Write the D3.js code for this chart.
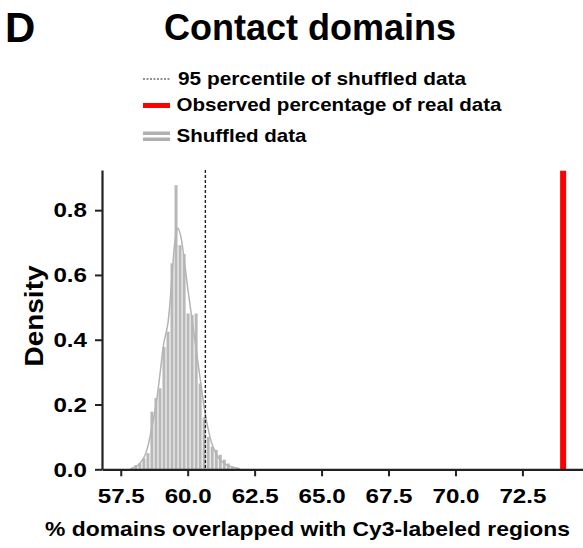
<!DOCTYPE html>
<html>
<head>
<meta charset="utf-8">
<script src="https://cdn.jsdelivr.net/npm/d3@7"></script>
<style>
  html, body { margin: 0; padding: 0; background: #fff; }
  svg { display: block; font-family: "Liberation Sans", Arial, sans-serif; }
</style>
</head>
<body>
<svg id="chart" width="583" height="548"></svg>
<script>
// Histogram of shuffled overlap percentages (density per bin)
const binStart = 57.84;
const binWidth = 0.15;
const shuffledDensity = [0.004, 0.013, 0.019, 0.034, 0.05, 0.178, 0.22, 0.25, 0.378, 0.425,
  0.636, 0.877, 0.692, 0.665, 0.481, 0.476, 0.481, 0.265, 0.16, 0.10,
  0.07, 0.06, 0.045, 0.03, 0.018, 0.008, 0.004];

// Smoothed density curve of the shuffled data
const curveX = [57.90, 58.06, 58.21, 58.36, 58.51, 58.66, 58.81, 58.96, 59.11, 59.26,
  59.41, 59.52, 59.63, 59.74, 59.85, 60.00, 60.15, 60.30, 60.45, 60.60,
  60.75, 60.90, 61.05, 61.20, 61.42, 61.65, 61.95];
const curveY = [0.003, 0.008, 0.018, 0.035, 0.07, 0.13, 0.195, 0.29, 0.39, 0.45,
  0.59, 0.70, 0.745, 0.72, 0.66, 0.56, 0.47, 0.38, 0.29, 0.20,
  0.13, 0.08, 0.05, 0.03, 0.015, 0.007, 0.002];

// Reference lines
const percentile95 = 60.66;
const observedPct = 74.02;

// Axis ticks
const xTicks = [57.5, 60.0, 62.5, 65.0, 67.5, 70.0, 72.5];
const yTicks = [0.0, 0.2, 0.4, 0.6, 0.8];

const legendLabels = ["95 percentile of shuffled data", "Observed percentage of real data", "Shuffled data"];

const svg = d3.select("#chart");
const FONT = "Liberation Sans, Arial, sans-serif";

// widen glyphs of a text selection by a factor
function widen(sel, factor) {
  sel.each(function () {
    const w = this.getComputedTextLength();
    d3.select(this).attr("textLength", w * factor).attr("lengthAdjust", "spacingAndGlyphs");
  });
}
function fitTo(sel, width) {
  sel.attr("textLength", width).attr("lengthAdjust", "spacingAndGlyphs");
}

const x = d3.scaleLinear().domain([56.8, 74.8]).range([102, 584]);
const y = d3.scaleLinear().domain([0, 0.924]).range([469.3, 170]);

const bins = shuffledDensity.map((d, i) => ({
  x0: binStart + i * binWidth,
  x1: binStart + (i + 1) * binWidth,
  v: d
}));

// Bars
svg.append("g").selectAll("rect").data(bins).join("rect")
  .attr("x", d => x(d.x0) + 0.5)
  .attr("width", d => x(d.x1) - x(d.x0) - 1)
  .attr("y", d => y(d.v))
  .attr("height", d => y(0) - y(d.v))
  .attr("fill", "#b8b8b8");

// Density curve
const curvePts = curveX.map((v, i) => [v, curveY[i]]);
svg.append("path")
  .datum(curvePts)
  .attr("fill", "none")
  .attr("stroke", "#b4b4b4")
  .attr("stroke-width", 1.5)
  .attr("d", d3.line().x(d => x(d[0])).y(d => y(d[1])).curve(d3.curveCatmullRom.alpha(0.5)));

// 95th percentile line
svg.append("line")
  .attr("x1", x(percentile95)).attr("x2", x(percentile95))
  .attr("y1", y(0.924)).attr("y2", y(0))
  .attr("stroke", "#222").attr("stroke-width", 1.4)
  .attr("stroke-dasharray", "3,2");

// Observed value line
svg.append("line")
  .attr("x1", x(observedPct)).attr("x2", x(observedPct))
  .attr("y1", y(0.922)).attr("y2", y(0))
  .attr("stroke", "#ff0000").attr("stroke-width", 6);

// Axes
const xAxis = svg.append("g")
  .attr("transform", `translate(0,${y(0)})`)
  .call(d3.axisBottom(x).tickValues(xTicks).tickFormat(d3.format(".1f")).tickSize(7).tickSizeOuter(0));
const yAxis = svg.append("g")
  .attr("transform", `translate(${x(56.8)},0)`)
  .call(d3.axisLeft(y).tickValues(yTicks).tickFormat(d3.format(".1f")).tickSize(7).tickSizeOuter(0));

[xAxis, yAxis].forEach(g => {
  g.select(".domain").attr("stroke", "#222").attr("stroke-width", 2.2);
  g.selectAll(".tick line").attr("stroke", "#222").attr("stroke-width", 2);
  g.selectAll(".tick text")
    .attr("fill", "#000")
    .style("font-family", FONT)
    .style("font-weight", "bold")
    .style("font-size", "21px");
});
xAxis.selectAll(".tick text").attr("dy", "0.71em").attr("y", 19);
yAxis.selectAll(".tick text").attr("x", -15);
widen(xAxis.selectAll(".tick text"), 1.15);
widen(yAxis.selectAll(".tick text"), 1.15);

// Axis titles
svg.append("text")
  .attr("x", 307.5).attr("y", 536)
  .attr("text-anchor", "middle")
  .style("font-family", FONT).style("font-weight", "bold").style("font-size", "21px")
  .text("% domains overlapped with Cy3-labeled regions")
  .call(fitTo, 525);

svg.append("text")
  .attr("transform", "translate(43,316) rotate(-90)")
  .attr("text-anchor", "middle")
  .style("font-family", FONT).style("font-weight", "bold").style("font-size", "26px")
  .text("Density")
  .call(fitTo, 101);

// Title and panel letter
svg.append("text")
  .attr("x", 310).attr("y", 40)
  .attr("text-anchor", "middle")
  .style("font-family", FONT).style("font-weight", "bold").style("font-size", "36px")
  .text("Contact domains");

svg.append("text")
  .attr("x", 5).attr("y", 42)
  .style("font-family", FONT).style("font-weight", "bold").style("font-size", "42px")
  .text("D");

// Legend
const legend = svg.append("g");
legend.append("line")
  .attr("x1", 143).attr("x2", 170).attr("y1", 79).attr("y2", 79)
  .attr("stroke", "#222").attr("stroke-width", 1).attr("stroke-dasharray", "2,1.5");
legend.append("line")
  .attr("x1", 143).attr("x2", 170).attr("y1", 105.5).attr("y2", 105.5)
  .attr("stroke", "#ff0000").attr("stroke-width", 5);
legend.append("rect")
  .attr("x", 143).attr("y", 131.5).attr("width", 27).attr("height", 3.5).attr("fill", "#b0b0b0");
legend.append("rect")
  .attr("x", 143).attr("y", 137.5).attr("width", 27).attr("height", 3.5).attr("fill", "#b0b0b0");

const legendY = [85, 110.5, 142];
const legendX = [178, 176.5, 176.5];
const legendW = [288, 325, 130];
legendLabels.forEach((t, i) => {
  legend.append("text")
    .attr("x", legendX[i]).attr("y", legendY[i])
    .style("font-family", FONT).style("font-weight", "bold").style("font-size", "19px")
    .text(t)
    .call(fitTo, legendW[i]);
});
</script>
</body>
</html>
